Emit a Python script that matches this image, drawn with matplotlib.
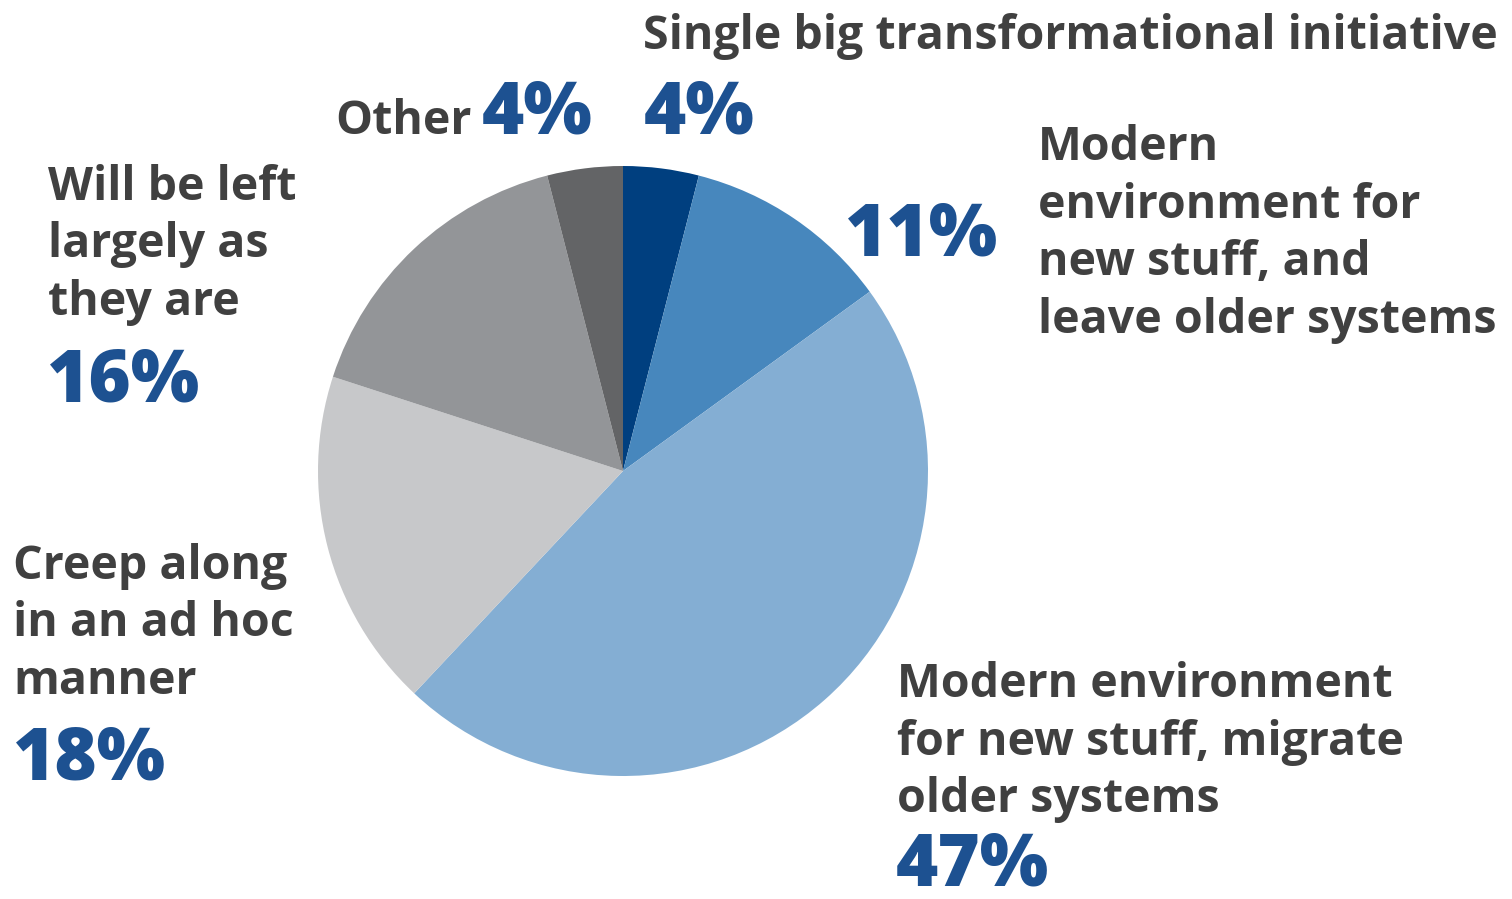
import matplotlib
matplotlib.use("Agg")
import matplotlib.pyplot as plt

plt.rcParams['font.family'] = ['Open Sans', 'DejaVu Sans']

values = [4, 11, 47, 18, 16, 4]
categories = ["Single big transformational initiative",
              "Modern environment for new stuff, and leave older systems",
              "Modern environment for new stuff, migrate older systems",
              "Creep along in an ad hoc manner",
              "Will be left largely as they are",
              "Other"]
colors = ["#003f7f", "#4787bd", "#84aed3", "#c7c8ca", "#939598", "#636466"]
pct_labels = [f"{v}%" for v in values]

# wrapped label lines per category
label_lines = [
    ["Single big transformational initiative"],
    ["Modern", "environment for", "new stuff, and", "leave older systems"],
    ["Modern environment", "for new stuff, migrate", "older systems"],
    ["Creep along", "in an ad hoc", "manner"],
    ["Will be left", "largely as", "they are"],
    ["Other"],
]

W, H = 1512, 899
fig = plt.figure(figsize=(W / 100, H / 100), dpi=100)
ax = fig.add_axes([0, 0, 1, 1])

cx, cy, r = 623, H - 471, 305
ax.pie(values, colors=colors, startangle=90, counterclock=False,
       center=(cx, cy), radius=r, frame=True,
       wedgeprops=dict(linewidth=0))
ax.set_xlim(0, W)
ax.set_ylim(0, H)
ax.set_aspect('equal')
ax.axis('off')

TXT = "#404040"
BLUE = "#1d5191"
lab_fs = 33.5
pct_fs = 52
step = 57.5

def lines(x, y0, lst, fs=lab_fs, **kw):
    for i, s in enumerate(lst):
        ax.text(x, H - (y0 + i * step), s, fontsize=fs, color=TXT,
                fontweight='bold', ha='left', va='baseline', **kw)

def pct(x, y, s, **kw):
    ax.text(x, H - y, s, fontsize=pct_fs, color=BLUE,
            fontweight='extra bold', ha='left', va='baseline', **kw)

# Single big transformational initiative
lines(643, 49, label_lines[0], fs=33.5, fontstretch='condensed')
pct(644, 134, pct_labels[0], fontstretch='condensed')

# Modern env, leave older
lines(1038, 160, label_lines[1])
pct(845, 255, pct_labels[1])

# Modern env, migrate
lines(897, 697, label_lines[2])
pct(896, 886, pct_labels[2])

# Creep along
lines(13, 579, label_lines[3])
pct(13, 779, pct_labels[3])

# Will be left
lines(48, 200, label_lines[4])
pct(47, 401, pct_labels[4])

# Other
lines(335, 134, label_lines[5])
pct(482, 134, pct_labels[5], fontstretch='condensed')

fig.savefig("out.png", dpi=100, facecolor='white')
